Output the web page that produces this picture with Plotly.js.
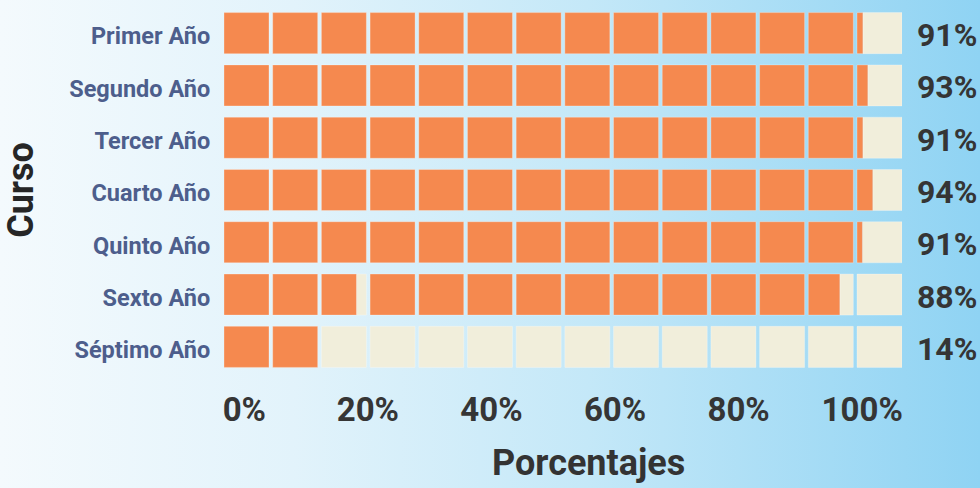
<!DOCTYPE html>
<html>
<head>
<meta charset="utf-8">
<script src="https://cdn.plot.ly/plotly-3.0.1.min.js"></script>
<style>
  html, body { margin: 0; padding: 0; }
  body {
    width: 980px; height: 488px; overflow: hidden;
    background: linear-gradient(to right, #f4fafd 0%, #e2f3fb 30%, #c4e8f8 60%, #8fd3f3 100%);
  }
  #chart { width: 980px; height: 488px; }
</style>
</head>
<body>
<div id="chart"></div>
<script>
// ---- data ----
const courses = ['Primer Año', 'Segundo Año', 'Tercer Año', 'Cuarto Año', 'Quinto Año', 'Sexto Año', 'Séptimo Año'];
const percentages = [91, 93, 91, 94, 91, 88, 14];
// fill fraction of each of the 14 blocks per course
const primerFill   = [1, 1, 1, 1, 1, 1, 1, 1, 1, 1, 1, 1, 1, 0.13];
const segundoFill  = [1, 1, 1, 1, 1, 1, 1, 1, 1, 1, 1, 1, 1, 0.24];
const tercerFill   = [1, 1, 1, 1, 1, 1, 1, 1, 1, 1, 1, 1, 1, 0.13];
const cuartoFill   = [1, 1, 1, 1, 1, 1, 1, 1, 1, 1, 1, 1, 1, 0.35];
const quintoFill   = [1, 1, 1, 1, 1, 1, 1, 1, 1, 1, 1, 1, 1, 0.12];
const sextoFill    = [1, 1, 0.78, 1, 1, 1, 1, 1, 1, 1, 1, 1, 0.7, 0];
const septimoFill  = [1, 1, 0, 0, 0, 0, 0, 0, 0, 0, 0, 0, 0, 0];
const tickValues = [0, 20, 40, 60, 80, 100];
const tickLabels = ['0%', '20%', '40%', '60%', '80%', '100%'];

// ---- build ----
const fills = [primerFill, segundoFill, tercerFill, cuartoFill, quintoFill, sextoFill, septimoFill];
const BLOCK_W = 0.924;           // block width relative to block pitch
const NBLOCKS = 14;
const ORANGE = '#f5894f';
const CREAM = '#f1eedb';

const oy = [], ox = [], ob = [];
const cy = [], cx = [], cb = [];
fills.forEach((row, r) => {
  row.forEach((f, i) => {
    if (f > 0) { oy.push(courses[r]); ox.push(f * BLOCK_W); ob.push(i); }
    if (f < 1) { cy.push(courses[r]); cx.push((1 - f) * BLOCK_W); cb.push(i + f * BLOCK_W); }
  });
});

const lineStyle = { color: 'rgba(255,255,255,0.35)', width: 0.8 };
const traces = [
  { type: 'bar', orientation: 'h', y: cy, x: cx, base: cb, marker: { color: CREAM, line: lineStyle },
    hoverinfo: 'skip', showlegend: false },
  { type: 'bar', orientation: 'h', y: oy, x: ox, base: ob, marker: { color: ORANGE, line: lineStyle },
    hoverinfo: 'skip', showlegend: false },
  { type: 'scatter', x: [], y: [], xaxis: 'x2', yaxis: 'y', showlegend: false, hoverinfo: 'skip' }
];

const annotations = courses.map((c, r) => ({
  xref: 'paper', x: 1, xanchor: 'left', xshift: 13,
  yref: 'y', y: c, yanchor: 'middle', yshift: -2,
  text: percentages[r] + '%', showarrow: false,
  font: { family: 'Roboto', size: 32, weight: 700, color: '#353535' }
}));
annotations.push({
  xref: 'paper', x: 0.537, xanchor: 'center',
  yref: 'paper', y: -0.245, yanchor: 'middle',
  text: 'Porcentajes', showarrow: false,
  font: { family: 'Roboto', size: 36, weight: 700, color: '#333333' }
});

const layout = {
  width: 980, height: 488,
  margin: { l: 224, r: 78, t: 7, b: 115 },
  paper_bgcolor: 'rgba(0,0,0,0)',
  plot_bgcolor: 'rgba(0,0,0,0)',
  barmode: 'overlay',
  bargap: 0.215,
  showlegend: false,
  xaxis: {
    range: [0, NBLOCKS - 1 + BLOCK_W],
    showticklabels: false, showgrid: false, zeroline: false, showline: false, ticks: '',
    fixedrange: true
  },
  xaxis2: {
    overlaying: 'x', anchor: 'y', side: 'bottom',
    range: [-3.285, 106.44],
    tickmode: 'array', tickvals: tickValues, ticktext: tickLabels,
    ticks: 'outside', ticklen: 7, tickcolor: 'rgba(0,0,0,0)',
    showgrid: false, zeroline: false, showline: false,
    tickfont: { family: 'Roboto', size: 33, weight: 700, color: '#353535' },
    fixedrange: true
  },
  yaxis: {
    type: 'category', categoryorder: 'array', categoryarray: courses,
    range: [6.5, -0.5],
    ticks: 'outside', ticklen: 8, tickcolor: 'rgba(0,0,0,0)',
    ticklabelshift: -3,
    showgrid: false, zeroline: false, showline: false,
    tickfont: { family: 'Roboto', size: 23.5, weight: 700, color: '#4d5e8c' },
    title: { text: 'Curso', standoff: 28, font: { family: 'Roboto', size: 36, weight: 700, color: '#262626' } },
    fixedrange: true
  },
  annotations: annotations
};

Plotly.newPlot('chart', traces, layout, { displayModeBar: false, staticPlot: true });
</script>
</body>
</html>
